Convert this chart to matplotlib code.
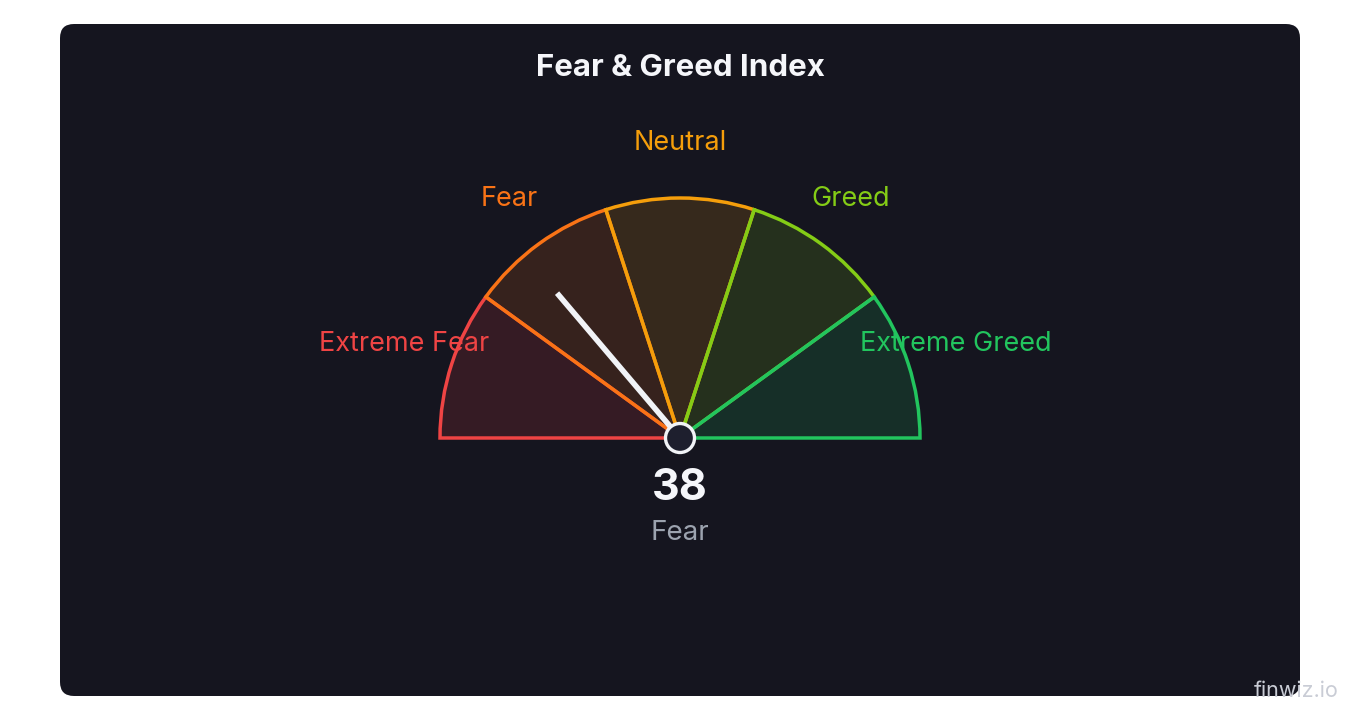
import numpy as np
import matplotlib
matplotlib.use("Agg")
import matplotlib.pyplot as plt
from matplotlib.patches import Wedge, Circle, FancyBboxPatch

# zones of the gauge (0-100 scale)
zone_names = ["Extreme Fear", "Fear", "Neutral", "Greed", "Extreme Greed"]
zone_edges = [0, 20, 40, 60, 80, 100]
zone_colors = ["#ef4444", "#f97316", "#f59e0b", "#84cc16", "#22c55e"]

index_value = 38
index_label = "Fear"
needle_reading = 27.6  # where the needle is drawn on the 0-100 scale

BG = "#15151f"
plt.rcParams["font.family"] = ["Inter", "DejaVu Sans"]

fig = plt.figure(figsize=(13.6, 7.2), dpi=100)
fig.patch.set_facecolor("white")
ax = fig.add_axes([0, 0, 1, 1])
ax.set_xlim(0, 1360)
ax.set_ylim(0, 720)
ax.set_aspect("equal")
ax.axis("off")

# card
card = FancyBboxPatch((60, 24), 1240, 672, boxstyle="round,pad=0,rounding_size=14",
                      fc=BG, ec="none")
ax.add_patch(card)

cx, cy, r = 680, 282, 240


def to_angle(v):
    return 180 - v * 1.8


for i, name in enumerate(zone_names):
    a1 = to_angle(zone_edges[i + 1])
    a2 = to_angle(zone_edges[i])
    col = zone_colors[i]
    ax.add_patch(Wedge((cx, cy), r, a1, a2, fc=col, alpha=0.15, ec="none"))
    ax.add_patch(Wedge((cx, cy), r, a1, a2, fc="none", ec=col, lw=2.5,
                       joinstyle="miter"))
    mid = np.radians((a1 + a2) / 2)
    ax.text(cx + 290 * np.cos(mid), cy + 290 * np.sin(mid) + 4.5, name, color=col,
            fontsize=19.5, ha="center", va="center")

# needle
na = np.radians(to_angle(needle_reading))
ax.plot([cx, cx + 190 * np.cos(na)], [cy, cy + 190 * np.sin(na)],
        color="#f1f3f7", lw=4.0, solid_capstyle="butt", zorder=5)
ax.add_patch(Circle((cx, cy), 14.5, fc="#1e1f2e", ec="#f1f3f7", lw=2.4, zorder=6))

ax.text(680, 652, "Fear & Greed Index", color="#f5f6fa", fontsize=22.5,
        fontweight="bold", ha="center", va="center")
ax.text(680, 232, str(index_value), color="#f5f6fa", fontsize=31,
        fontweight="bold", ha="center", va="center")
ax.text(680, 187, index_label, color="#9ca3af", fontsize=20,
        ha="center", va="center")

ax.text(1296, 29, "finwiz.io", color="#c9ccd5", fontsize=15.5,
        ha="center", va="center")

fig.savefig("out.png", dpi=100, facecolor="white")
